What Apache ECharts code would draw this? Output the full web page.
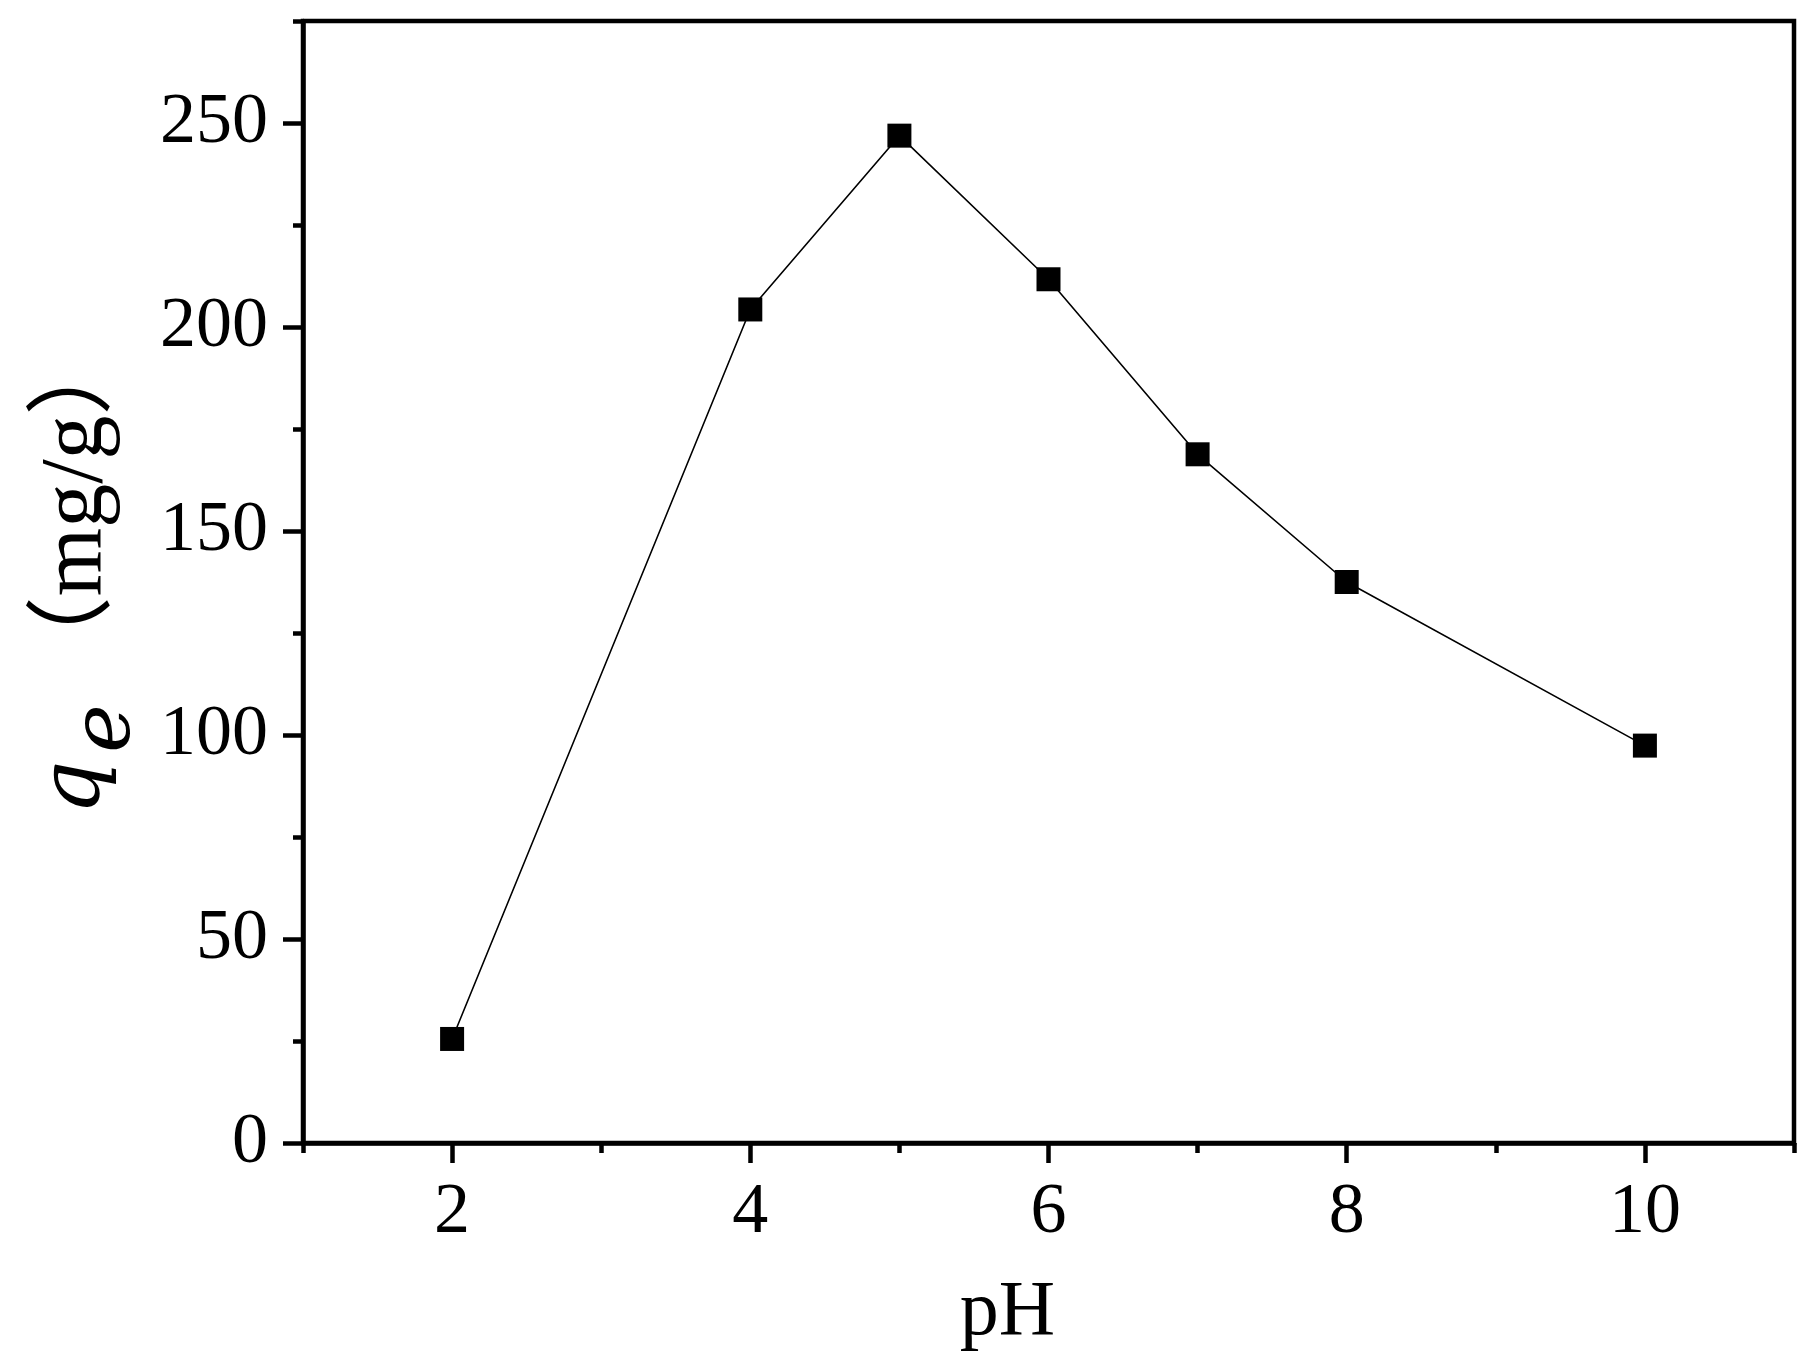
<!DOCTYPE html>
<html>
<head>
<meta charset="utf-8">
<script src="https://cdn.jsdelivr.net/npm/echarts@6/dist/echarts.min.js"></script>
<style>
  html, body { margin: 0; padding: 0; background: #fff; }
  #main { width: 1819px; height: 1365px; }
</style>
</head>
<body>
<div id="main"></div>
<script>
// pH vs qe
const phValues = [2, 4, 5, 6, 7, 8, 10];
const qeValues = [25.5, 204.3, 246.9, 211.7, 168.8, 137.5, 97.4];

const xMajorTicks = [2, 4, 6, 8, 10];
const xMinorTicks = [1, 3, 5, 7, 9, 11];
const yMajorTicks = [0, 50, 100, 150, 200, 250];
const yMinorTicks = [25, 75, 125, 175, 225, 275];

const seriesData = phValues.map((p, i) => [p, qeValues[i]]);

let chart = echarts.init(document.getElementById('main'));

let labelFont = {
    color: '#000',
    fontFamily: 'Liberation Serif',
    fontSize: 72
};

let option = {
    backgroundColor: '#fff',
    animation: false,
    grid: {
        left: 303,
        right: 25,
        top: 21,
        bottom: 222,
        outerBoundsMode: 'none',
        containLabel: false,
        show: true,
        borderColor: '#000',
        borderWidth: 4.5,
        backgroundColor: 'transparent'
    },
    xAxis: [
        {
            type: 'value',
            min: 1,
            max: 11,
            interval: 1,
            splitLine: { show: false },
            axisLine: { lineStyle: { color: '#000', width: 4.5 } },
            axisTick: {
                customValues: xMajorTicks,
                length: 20,
                lineStyle: { color: '#000', width: 4.5 }
            },
            axisLabel: Object.assign({
                customValues: xMajorTicks,
                margin: 34
            }, labelFont),
            name: 'pH',
            nameLocation: 'middle',
            nameGap: 132,
            nameTextStyle: {
                color: '#000',
                fontFamily: 'Liberation Serif',
                fontSize: 78,
                padding: [0, 82, 0, 0]
            }
        },
        {
            type: 'value',
            min: 1,
            max: 11,
            interval: 1,
            position: 'bottom',
            splitLine: { show: false },
            axisLine: { show: false },
            axisTick: {
                customValues: xMinorTicks,
                length: 10,
                lineStyle: { color: '#000', width: 4.5 }
            },
            axisLabel: { show: false }
        }
    ],
    yAxis: [
        {
            type: 'value',
            min: 0,
            max: 275,
            interval: 25,
            splitLine: { show: false },
            axisLine: { lineStyle: { color: '#000', width: 4.5 } },
            axisTick: {
                customValues: yMajorTicks,
                length: 20,
                lineStyle: { color: '#000', width: 4.5 }
            },
            axisLabel: Object.assign({
                customValues: yMajorTicks,
                margin: 35
            }, labelFont),
            name: '{q|q}{e|e}{u|（mg/g）}',
            nameLocation: 'middle',
            nameGap: 121,
            nameRotate: 90,
            nameTextStyle: {
                color: '#000',
                padding: [0, 0, 0, 14],
                rich: {
                    q: {
                        fontFamily: 'DejaVu Serif',
                        fontStyle: 'italic',
                        fontSize: 84,
                        lineHeight: 88,
                        verticalAlign: 'top',
                        padding: [0, 8, 0, 8],
                        color: '#000'
                    },
                    e: {
                        fontFamily: 'DejaVu Serif',
                        fontStyle: 'italic',
                        fontSize: 82,
                        lineHeight: 148,
                        verticalAlign: 'middle',
                        padding: [0, 20, 0, 0],
                        color: '#000'
                    },
                    u: {
                        fontFamily: 'Liberation Serif, Noto Sans CJK SC',
                        fontSize: 88,
                        lineHeight: 88,
                        verticalAlign: 'top',
                        color: '#000'
                    }
                }
            }
        },
        {
            type: 'value',
            min: 0,
            max: 275,
            interval: 25,
            position: 'left',
            splitLine: { show: false },
            axisLine: { show: false },
            axisTick: {
                customValues: yMinorTicks,
                length: 10,
                lineStyle: { color: '#000', width: 4.5 }
            },
            axisLabel: { show: false }
        }
    ],
    series: [
        {
            type: 'line',
            data: seriesData,
            symbol: 'rect',
            symbolSize: 24,
            itemStyle: { color: '#000' },
            lineStyle: { color: '#000', width: 1.6 }
        }
    ]
};

chart.setOption(option);
</script>
</body>
</html>
